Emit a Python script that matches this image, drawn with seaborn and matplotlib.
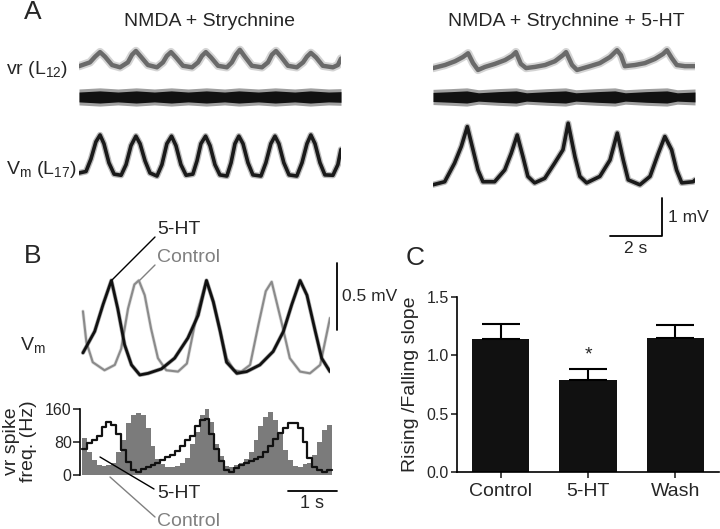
import numpy as np
import pandas as pd
import seaborn as sns
import matplotlib.pyplot as plt
from matplotlib.lines import Line2D

# ---- Panel A: traces (time in s, voltage in mV, relative to trough) ----
ctrl_vm_t = [0, 0.27, 0.46, 0.65, 0.81, 0.96, 1.15, 1.35, 1.62, 1.81, 2.0, 2.19, 2.35, 2.54, 2.73,
             3.0, 3.19, 3.38, 3.56, 3.73, 3.92, 4.12, 4.38, 4.54, 4.69, 4.87, 5.04, 5.23, 5.42,
             5.69, 5.85, 6.0, 6.15, 6.31, 6.5, 6.69, 7.0, 7.19, 7.38, 7.54, 7.69, 7.88, 8.08,
             8.38, 8.58, 8.77, 8.92, 9.08, 9.27, 9.46, 9.77, 9.96, 10.08]
ctrl_vm_v = [0.08, 0.12, 0.45, 0.9, 1.08, 0.85, 0.35, 0.05, 0.02, 0.3, 0.8, 1.05, 0.85, 0.4, 0.08,
             0.0, 0.3, 0.85, 1.05, 0.8, 0.3, 0.02, 0.05, 0.4, 0.85, 1.05, 0.8, 0.3, 0.03,
             0.0, 0.35, 0.85, 1.05, 0.85, 0.35, 0.03, 0.0, 0.35, 0.85, 1.05, 0.85, 0.35, 0.03,
             0.0, 0.35, 0.85, 1.08, 0.85, 0.35, 0.03, 0.02, 0.3, 0.7]
ctrl_vr_t = [0, 0.42, 0.62, 0.81, 1.0, 1.27, 1.58, 1.88, 2.04, 2.19, 2.38, 2.65, 3.0, 3.23, 3.38,
             3.54, 3.73, 4.0, 4.35, 4.58, 4.73, 4.88, 5.08, 5.35, 5.69, 5.88, 6.04, 6.19, 6.38,
             6.65, 7.04, 7.27, 7.42, 7.58, 7.77, 8.04, 8.38, 8.62, 8.77, 8.92, 9.12, 9.38,
             9.77, 9.96, 10.08]
ctrl_vr_v = [0.05, 0.15, 0.3, 0.42, 0.3, 0.08, 0.02, 0.15, 0.35, 0.45, 0.3, 0.08, 0.02, 0.15, 0.32,
             0.42, 0.28, 0.06, 0.02, 0.15, 0.32, 0.42, 0.28, 0.06, 0.02, 0.15, 0.35, 0.48, 0.3,
             0.06, 0.02, 0.15, 0.35, 0.45, 0.3, 0.06, 0.02, 0.15, 0.3, 0.4, 0.28, 0.06,
             0.02, 0.08, 0.25]
ctrl_raw_t = [0, 0.8, 1.5, 2.2, 2.9, 3.55, 4.2, 4.9, 5.6, 6.15, 6.9, 7.55, 8.3, 8.9, 9.6, 10.08]
ctrl_raw_h = [0.13, 0.16, 0.13, 0.16, 0.13, 0.16, 0.13, 0.16, 0.13, 0.16, 0.13, 0.16, 0.13, 0.16, 0.13, 0.14]

sht_vm_t = [0, 0.45, 0.83, 1.09, 1.32, 1.54, 1.73, 1.92, 2.37, 2.76, 3.01, 3.24, 3.46, 3.65, 3.91,
            4.3, 4.68, 5.0, 5.2, 5.46, 5.65, 5.91, 6.42, 6.81, 7.09, 7.32, 7.51, 7.96, 8.35,
            8.67, 8.92, 9.18, 9.37, 9.57, 10.01, 10.08]
sht_vm_v = [-0.05, 0.03, 0.52, 0.96, 1.48, 0.87, 0.34, 0.03, 0.03, 0.34, 0.78, 1.26, 0.69, 0.17, 0.0,
            0.12, 0.52, 0.87, 1.57, 0.69, 0.17, 0.0, 0.17, 0.6, 1.31, 0.6, 0.08, -0.05, 0.17,
            0.78, 1.22, 0.87, 0.34, 0.0, 0.03, 0.08]
sht_vr_t = [0, 0.46, 0.85, 1.15, 1.35, 1.54, 1.73, 2.0, 2.38, 2.77, 3.04, 3.19, 3.38, 3.58, 3.92,
            4.31, 4.69, 5.0, 5.12, 5.35, 5.54, 6.04, 6.42, 6.81, 7.08, 7.23, 7.38, 7.77, 8.15,
            8.54, 8.85, 9.0, 9.19, 9.38, 9.69, 10.08]
sht_vr_v = [0, 0.08, 0.18, 0.29, 0.39, 0.13, -0.05, 0.03, 0.11, 0.21, 0.32, 0.42, 0.11, 0.0, 0.03,
            0.08, 0.18, 0.34, 0.42, 0.08, -0.05, 0.05, 0.13, 0.29, 0.47, 0.34, 0.05, 0.08, 0.13,
            0.24, 0.37, 0.47, 0.26, 0.08, 0.05, 0.05]
sht_raw_t = [0, 0.7, 1.3, 1.75, 2.5, 3.2, 3.6, 4.4, 5.1, 5.5, 6.3, 7.0, 7.4, 8.2, 9.0, 9.4, 10.08]
sht_raw_h = [0.12, 0.14, 0.16, 0.11, 0.14, 0.16, 0.11, 0.14, 0.16, 0.11, 0.14, 0.16, 0.11, 0.14, 0.16, 0.11, 0.13]

# ---- Panel B: averaged Vm cycles (mV) and vr spike frequency (Hz) ----
b_sht_t = [0.02, 0.26, 0.43, 0.6, 0.73, 0.87, 1.01, 1.18, 1.35, 1.62, 1.89, 2.16, 2.37, 2.54,
           2.68, 2.82, 2.95, 3.16, 3.36, 3.63, 3.9, 4.11, 4.28, 4.45, 4.59, 4.76, 4.89, 5.06]
b_sht_v = [0.24, 0.40, 0.60, 0.78, 0.57, 0.30, 0.15, 0.075, 0.087, 0.12, 0.2, 0.35, 0.52, 0.78,
           0.62, 0.40, 0.17, 0.087, 0.1, 0.15, 0.25, 0.4, 0.6, 0.78, 0.67, 0.4, 0.2, 0.1]
b_ctrl_t = [0.02, 0.09, 0.22, 0.46, 0.67, 0.8, 0.94, 1.07, 1.16, 1.28, 1.41, 1.55, 1.72, 1.96,
            2.14, 2.35, 2.54, 2.68, 2.82, 2.95, 3.1, 3.25, 3.43, 3.6, 3.75, 3.87, 4.07, 4.24,
            4.45, 4.65, 4.86, 5.06]
b_ctrl_v = [0.55, 0.32, 0.17, 0.11, 0.15, 0.27, 0.57, 0.75, 0.78, 0.67, 0.42, 0.2, 0.11, 0.1,
            0.16, 0.54, 0.78, 0.62, 0.4, 0.2, 0.11, 0.1, 0.15, 0.45, 0.7, 0.77, 0.47, 0.2,
            0.1, 0.087, 0.15, 0.5]

freq_ctrl = [90, 55, 36, 24, 22, 24, 30, 55, 85, 125, 145, 150, 145, 115, 70, 38, 26, 20, 20, 22,
             28, 42, 75, 105, 145, 160, 128, 75, 46, 22, 20, 24, 28, 40, 55, 85, 120, 140, 152, 133,
             100, 60, 36, 22, 20, 26, 30, 48, 80, 108, 121]
freq_sht = [62, 77, 85, 95, 117, 128, 122, 100, 60, 32, 12, 7, 14, 20, 24, 28, 36, 44, 48, 58,
            70, 85, 95, 118, 133, 136, 100, 62, 35, 12, 8, 18, 24, 30, 34, 38, 44, 55, 70, 88,
            102, 115, 125, 126, 115, 80, 42, 20, 12, 8, 12]

# ---- Panel C ----
slope_cond = ["Control", "5-HT", "Wash"]
slope_mean = [1.14, 0.79, 1.15]
slope_sem = [0.13, 0.09, 0.11]

sns.set_theme(style="white")
plt.rcParams['font.family'] = ['Liberation Sans', 'DejaVu Sans']
plt.rcParams['mathtext.fontset'] = 'custom'
plt.rcParams['mathtext.rm'] = 'Liberation Sans'
plt.rcParams['mathtext.it'] = 'Liberation Sans:italic'

W, H = 720, 529
fig = plt.figure(figsize=(7.2, 5.29), dpi=100)


def box(x0, y0, x1, y1):
    return fig.add_axes([x0 / W, 1 - y1 / H, (x1 - x0) / W, (y1 - y0) / H])


def ftext(x, y, s, **kw):
    fig.text(x / W, 1 - y / H, s, **kw)


def fline(xs, ys, **kw):
    fig.add_artist(Line2D([x / W for x in xs], [1 - y / H for y in ys], **kw))


def trace(ax, t, v, off, color, lw, halo, halo_lw, halo_alpha=0.5):
    y = np.array(v) + off
    sns.lineplot(x=t, y=y, ax=ax, color=halo, lw=halo_lw, alpha=halo_alpha, sort=False, estimator=None)
    sns.lineplot(x=t, y=y, ax=ax, color=color, lw=lw, sort=False, estimator=None)


# panel A
for x0, vm, vr, raw, vm_off in [(79, (ctrl_vm_t, ctrl_vm_v), (ctrl_vr_t, ctrl_vr_v), (ctrl_raw_t, ctrl_raw_h), 0.42),
                                 (433, (sht_vm_t, sht_vm_v), (sht_vr_t, sht_vr_v), (sht_raw_t, sht_raw_h), 0.24)]:
    ax = box(x0, 35, x0 + 262, 192)
    trace(ax, vm[0], vm[1], vm_off, '#1a1a1a', 2.6, '#777777', 4.5)
    trace(ax, vr[0], vr[1], 3.26, '#6a6a6a', 3.2, '#aaaaaa', 6.0, 0.5)
    h = np.array(raw[1])
    ax.fill_between(raw[0], 2.5 - h - 0.08, 2.5 + h + 0.08, color='#a0a0a0', lw=0)
    ax.fill_between(raw[0], 2.5 - h, 2.5 + h, color='#111111', lw=0)
    ax.set_xlim(0, 10.08)
    ax.set_ylim(0, 4.13)
    ax.axis('off')
    axA_right = ax

# scale bars A (1 mV, 2 s)
axA_right.plot([6.81, 8.81, 8.81], [-1.16, -1.16, -0.16], color='black', lw=1.3, clip_on=False)
axA_right.text(9.05, -0.66, "1 mV", fontsize=12.5, va='center', ha='left')
axA_right.text(7.81, -1.3, "2 s", fontsize=12.5, va='top', ha='center')

ftext(33, 12, "A", fontsize=19, ha='center', va='center')
ftext(210, 22, "NMDA + Strychnine", fontsize=14, ha='center', va='center')
ftext(566, 22, "NMDA + Strychnine + 5-HT", fontsize=14, ha='center', va='center')
ftext(6, 70, r"vr (L$_{12}$)", fontsize=14, ha='left', va='center')
ftext(6, 170, r"V$_\mathrm{m}$ (L$_{17}$)", fontsize=14, ha='left', va='center')

# panel B, Vm
axv = box(80, 270, 330, 385)
trace(axv, b_ctrl_t, b_ctrl_v, 0, '#8a8a8a', 1.5, '#bbbbbb', 2.5)
trace(axv, b_sht_t, b_sht_v, 0, '#111111', 2.0, '#555555', 3.0)
axv.set_xlim(-0.04, 5.06)
axv.set_ylim(0, 0.858)
axv.axis('off')
axv.plot([5.2, 5.2], [0.41, 0.91], color='black', lw=1.3, clip_on=False)
axv.text(5.3, 0.66, "0.5 mV", fontsize=12.5, va='center', ha='left')

ftext(33, 256, "B", fontsize=19, ha='center', va='center')
ftext(20, 345, r"V$_\mathrm{m}$", fontsize=14, ha='left', va='center')
ftext(157, 230, "5-HT", fontsize=14, ha='left', va='center')
fline([155, 112], [237, 280], color='black', lw=1)
ftext(157, 258, "Control", fontsize=14, ha='left', va='center', color='#808080')
fline([155, 140], [265, 280], color='#808080', lw=1)

# panel B, spike frequency histograms
axh = box(80, 409, 330, 475)
edges = [round(i * 0.1, 2) for i in range(len(freq_ctrl) + 1)]
hist = pd.DataFrame({"t": [e + 0.05 for e in edges[:-1]], "ctrl": freq_ctrl, "sht": freq_sht})
axh.fill_between(edges, freq_ctrl + [freq_ctrl[-1]], step='post', color='#7b7b7b', lw=0,
                 clip_on=False)
sns.histplot(data=hist, x="t", weights="sht", bins=edges, element='step', fill=False,
             color='#111111', lw=1.6, ax=axh)
for c in axh.collections + axh.lines:
    c.set_clip_on(False)
axh.set_xlim(-0.04, 5.06)
axh.set_ylim(0, 160)
axh.set_yticks([0, 80, 160])
axh.set_xticks([])
axh.set_ylabel("")
axh.set_xlabel("")
for s in ['top', 'right', 'bottom']:
    axh.spines[s].set_visible(False)
axh.spines['left'].set_linewidth(1.2)
axh.spines['left'].set_color('black')
axh.tick_params(axis='y', left=True, direction='out', length=5, width=1.2, labelsize=11.5, pad=1)
axh.plot([4.2, 5.2], [-39, -39], color='black', lw=1.3, clip_on=False)
axh.text(4.7, -48, "1 s", fontsize=13, ha='center', va='top')

ftext(20, 441, "vr spike\nfreq. (Hz)", fontsize=14, rotation=90, ha='center', va='center',
      linespacing=1.0)
ftext(157, 493, "5-HT", fontsize=14, ha='left', va='center')
fline([100, 154], [457, 489], color='black', lw=1)
ftext(157, 522, "Control", fontsize=14, ha='left', va='center', color='#808080')
fline([110, 155], [477, 517], color='#808080', lw=1)

# panel C
axc = box(457, 297, 719, 472)
sns.barplot(x=slope_cond, y=slope_mean, color='#111111', saturation=1, width=0.66,
            edgecolor='none', ax=axc)
axc.errorbar(range(3), slope_mean, yerr=[[0, 0, 0], slope_sem], fmt='none', ecolor='black',
             elinewidth=1.5, capsize=14, capthick=1.5)
axc.text(1, 1.0, "*", fontsize=14, ha='center', va='center')
axc.set_xlim(-0.5, 2.5)
axc.set_ylim(0, 1.5)
axc.set_yticks([0, 0.5, 1.0, 1.5])
axc.set_yticklabels(["0.0", "0.5", "1.0", "1.5"])
axc.set_ylabel("Rising /Falling slope", fontsize=14, labelpad=5)
for s in ['top', 'right']:
    axc.spines[s].set_visible(False)
for s in ['left', 'bottom']:
    axc.spines[s].set_linewidth(1.2)
    axc.spines[s].set_color('black')
axc.tick_params(axis='y', left=True, direction='out', length=4, width=1.2, labelsize=11.5, pad=2)
axc.tick_params(axis='x', bottom=True, direction='out', length=4, width=1.2, labelsize=14, pad=4)
ftext(415, 258, "C", fontsize=19, ha='center', va='center')

fig.savefig("out.png", dpi=100)
